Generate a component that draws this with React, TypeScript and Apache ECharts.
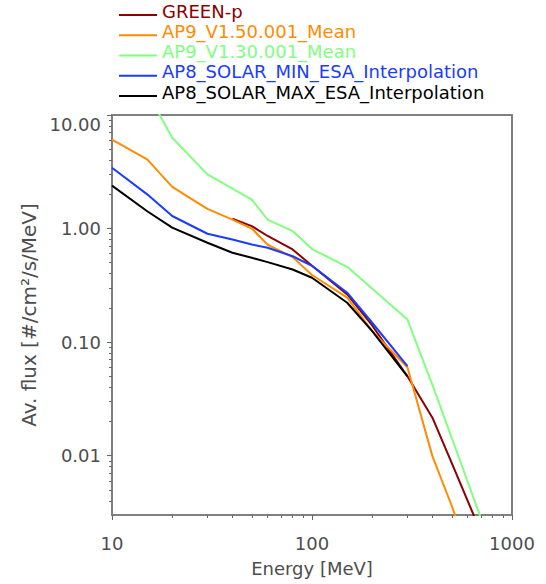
import React, { useEffect, useRef } from "react";
import * as echarts from "echarts";

// ---- Data (Energy [MeV], flux [#/cm²/s/MeV]) ----
const seriesNames = [
  "GREEN-p",
  "AP9_V1.50.001_Mean",
  "AP9_V1.30.001_Mean",
  "AP8_SOLAR_MIN_ESA_Interpolation",
  "AP8_SOLAR_MAX_ESA_Interpolation",
];
const seriesColors = ["#8b0000", "#ff8c00", "#80ff80", "#1a3cff", "#000000"];

const greenP: number[][] = [
  [40, 1.22], [50, 1.05], [60, 0.86], [80, 0.655], [100, 0.47], [150, 0.263],
  [200, 0.14], [300, 0.05], [400, 0.0216], [500, 0.0086], [700, 0.0021],
];
const ap9v150: number[][] = [
  [10, 6.08], [15, 4.06], [20, 2.33], [30, 1.49], [40, 1.2], [50, 1.0],
  [60, 0.72], [80, 0.56], [100, 0.39], [150, 0.246], [200, 0.125],
  [300, 0.06], [400, 0.0099], [500, 0.0036], [700, 0.0007],
];
const ap9v130: number[][] = [
  [10, 40], [15, 15.8], [20, 6.3], [30, 3.0], [50, 1.8], [60, 1.2],
  [80, 0.95], [100, 0.66], [150, 0.46], [300, 0.158], [400, 0.042],
  [500, 0.0143], [700, 0.0028],
];
const ap8min: number[][] = [
  [10, 3.43], [15, 2.0], [20, 1.29], [30, 0.9], [40, 0.8], [50, 0.724],
  [60, 0.677], [80, 0.57], [100, 0.47], [150, 0.272], [200, 0.148], [300, 0.0615],
];
const ap8max: number[][] = [
  [10, 2.39], [15, 1.42], [20, 1.02], [30, 0.75], [40, 0.612], [50, 0.553],
  [60, 0.506], [80, 0.436], [100, 0.369], [150, 0.222], [200, 0.125], [300, 0.05],
];
const allSeries = [greenP, ap9v150, ap9v130, ap8min, ap8max];

// ---- Axes ----
const xMin = 10;
const xMax = 1000;
const yMin = 0.003;
const yMax = 10;
const xMajorTicks = [10, 100, 1000];
const xMinorTicks = [20, 30, 40, 50, 60, 70, 80, 90, 200, 300, 400, 500, 600, 700, 800, 900];
const yMajorTicks = [0.01, 0.1, 1, 10];
const yMinorTicks = [
  0.004, 0.005, 0.006, 0.007, 0.008, 0.009,
  0.02, 0.03, 0.04, 0.05, 0.06, 0.07, 0.08, 0.09,
  0.2, 0.3, 0.4, 0.5, 0.6, 0.7, 0.8, 0.9,
  2, 3, 4, 5, 6, 7, 8, 9,
];
const xTitle = "Energy [MeV]";
const yTitle = "Av. flux [#/cm²/s/MeV]";

const FONT = "DejaVu Sans";
const AXIS_COLOR = "#808080";
const TEXT_COLOR = "#4d4d4d";
// legend icon: a line sitting 4px below the text centre (tiny invisible sliver keeps the box)
const LEGEND_ICON = "path://M0,0L38,0L38,0.001L0,0.001Z M0,8L38,8L38,10L0,10Z";

const fluxLabel = (v: number) => {
  const p = Math.round(Math.log10(v));
  return Math.pow(10, p).toFixed(2);
};

export default function App() {
  const ref = useRef<HTMLDivElement>(null);
  useEffect(() => {
    if (!ref.current) return;
    const chart = echarts.init(ref.current, null, { renderer: "svg" });
    const grid = { left: 112, top: 115, width: 400, height: 400 };
    const yLabelBase = { show: true, margin: 11, fontSize: 18, color: TEXT_COLOR, fontFamily: FONT, formatter: fluxLabel };
    const option: any = {
      animation: false,
      textStyle: { fontFamily: FONT },
      grid: {
        ...grid,
        show: true,
        borderColor: AXIS_COLOR,
        borderWidth: 2,
        backgroundColor: "transparent",
      },
      legend: {
        orient: "vertical",
        left: 114,
        top: 0,
        padding: [1, 5, 5, 5],
        itemWidth: 38,
        itemHeight: 10,
        itemGap: 0.25,
        selectedMode: false,
        icon: LEGEND_ICON,
        itemStyle: { borderWidth: 0 },
        textStyle: { fontSize: 18, fontFamily: FONT, lineHeight: 12, padding: [0, 0, 8, 0] },
        data: seriesNames.map((n, i) => ({
          name: n,
          icon: LEGEND_ICON,
          itemStyle: { color: seriesColors[i], borderWidth: 0 },
          textStyle: { color: seriesColors[i] },
        })),
      },
      xAxis: [
        {
          type: "log",
          logBase: 10,
          min: xMin,
          max: xMax,
          position: "bottom",
          name: xTitle,
          nameLocation: "middle",
          nameGap: 44,
          nameTextStyle: { fontSize: 18, color: TEXT_COLOR, fontFamily: FONT },
          axisLine: { show: true, lineStyle: { color: AXIS_COLOR, width: 2 } },
          axisTick: { show: true, inside: false, length: 5, customValues: xMajorTicks, lineStyle: { color: "#666", width: 1 } },
          axisLabel: {
            show: true,
            customValues: xMajorTicks,
            margin: 19,
            fontSize: 18,
            color: TEXT_COLOR,
            fontFamily: FONT,
            formatter: (v: number) => String(Math.round(v)),
          },
          splitLine: { show: false },
          minorTick: { show: false },
        },
        {
          type: "log",
          logBase: 10,
          min: xMin,
          max: xMax,
          position: "bottom",
          axisLine: { show: false },
          axisTick: { show: true, inside: false, length: 3, customValues: xMinorTicks, lineStyle: { color: "#666", width: 1 } },
          axisLabel: { show: false },
          splitLine: { show: false },
        },
      ],
      yAxis: [
        {
          type: "log",
          logBase: 10,
          min: yMin,
          max: yMax,
          position: "left",
          name: yTitle,
          nameLocation: "middle",
          nameGap: 73,
          nameRotate: 90,
          nameTextStyle: { fontSize: 20, color: TEXT_COLOR, fontFamily: FONT },
          axisLine: { show: true, lineStyle: { color: AXIS_COLOR, width: 2 } },
          axisTick: { show: true, inside: false, length: 5, customValues: yMajorTicks, lineStyle: { color: "#666", width: 1 } },
          axisLabel: { ...yLabelBase, customValues: yMajorTicks.slice(0, 3) },
          splitLine: { show: false },
        },
        {
          type: "log",
          logBase: 10,
          min: yMin,
          max: yMax,
          position: "left",
          axisLine: { show: false },
          axisTick: { show: true, inside: false, length: 3, customValues: yMinorTicks, lineStyle: { color: "#666", width: 1 } },
          axisLabel: { show: false },
          splitLine: { show: false },
        },
        {
          type: "log",
          logBase: 10,
          min: yMin,
          max: yMax,
          position: "left",
          axisLine: { show: false },
          axisTick: { show: false },
          axisLabel: { ...yLabelBase, customValues: yMajorTicks.slice(3), verticalAlign: "top" },
          splitLine: { show: false },
        },
      ],
      series: allSeries.map((d, i) => ({
        name: seriesNames[i],
        type: "line",
        xAxisIndex: 0,
        yAxisIndex: 0,
        data: d,
        symbol: "none",
        showSymbol: false,
        clip: true,
        lineStyle: { color: seriesColors[i], width: 2 },
        itemStyle: { color: seriesColors[i] },
        z: 2 + i,
      })),
    };
    chart.setOption(option);
    return () => chart.dispose();
  }, []);
  return <div ref={ref} style={{ width: 546, height: 584, position: "absolute", left: 0, top: 0 }} />;
}
